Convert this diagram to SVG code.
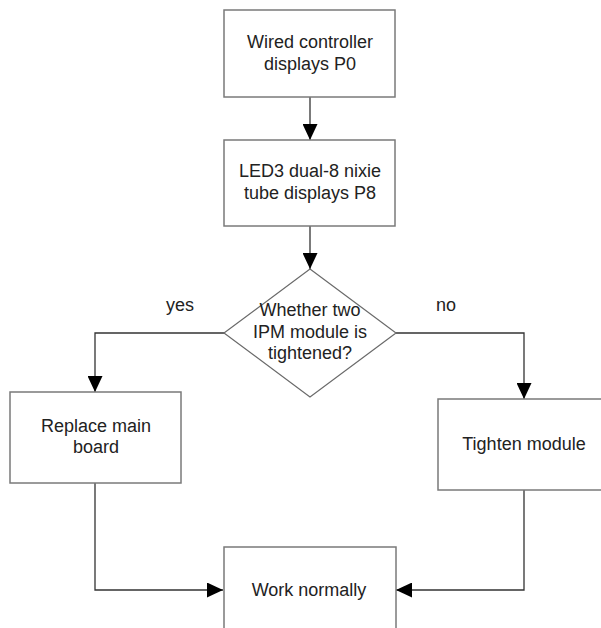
<svg xmlns="http://www.w3.org/2000/svg" width="601" height="628" viewBox="0 0 601 628">
<defs>
<marker id="arr" markerUnits="userSpaceOnUse" markerWidth="16" markerHeight="15" refX="16" refY="7.5" orient="auto">
<path d="M0,0 L16,7.5 L0,15 Z" fill="#000"/>
</marker>
<style>
.box{fill:#fff;stroke:#7a7a7a;stroke-width:1.5}
.dia{fill:#fff;stroke:#6a6a6a;stroke-width:1.2}
.t{font-family:"Liberation Sans",Arial,sans-serif;font-size:18px;fill:#222;text-anchor:middle}
.c{fill:none;stroke:#333;stroke-width:1.3;marker-end:url(#arr)}
</style>
</defs>
<rect width="601" height="628" fill="#fff"/>
<g id="connectors">
<path class="c" d="M310,97 L310,140"/>
<path class="c" d="M310,226 L310,269"/>
<path class="c" d="M224,333 L95,333 L95,392"/>
<path class="c" d="M396,333 L524,333 L524,399"/>
<path class="c" d="M95,483 L95,590 L223,590"/>
<path class="c" d="M524,490 L524,590 L396,590"/>
</g>
<g id="n1">
<rect class="box" x="224" y="10" width="171" height="87"/>
<text class="t" x="310" y="48">Wired controller</text>
<text class="t" x="310" y="70">displays P0</text>
</g>
<g id="n2">
<rect class="box" x="224" y="140" width="171" height="86"/>
<text class="t" x="310" y="177">LED3 dual-8 nixie</text>
<text class="t" x="310" y="199">tube displays P8</text>
</g>
<g id="n3">
<polygon class="dia" points="310,269 396,333 310,397 224,333"/>
<text class="t" x="310" y="316">Whether two</text>
<text class="t" x="310" y="338">IPM module is</text>
<text class="t" x="310" y="359">tightened?</text>
</g>
<g id="lbl-yes"><text class="t" x="180" y="311">yes</text></g>
<g id="lbl-no"><text class="t" x="446" y="311">no</text></g>
<g id="n4">
<rect class="box" x="10" y="392" width="171" height="91"/>
<text class="t" x="96" y="432">Replace main</text>
<text class="t" x="96" y="453">board</text>
</g>
<g id="n5">
<rect class="box" x="438" y="399" width="172" height="91"/>
<text class="t" x="524" y="450">Tighten module</text>
</g>
<g id="n6">
<rect class="box" x="224" y="547" width="172" height="90"/>
<text class="t" x="309" y="596">Work normally</text>
</g>
</svg>
